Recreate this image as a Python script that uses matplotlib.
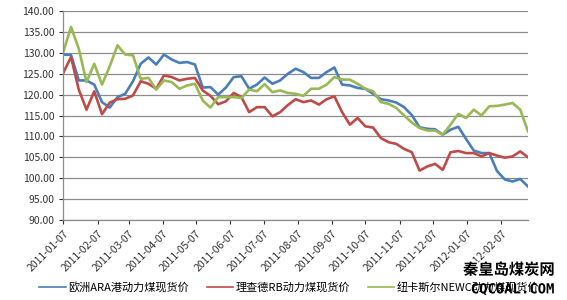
import pandas as pd
import matplotlib
matplotlib.use('Agg')
import matplotlib.pyplot as plt
import matplotlib.dates as mdates
import matplotlib.patheffects as pe

plt.rcParams['font.family'] = ['Noto Sans CJK SC', 'DejaVu Sans']

#########################################################
# Data (weekly)
#########################################################
dates = pd.date_range('2011-01-07', periods=61, freq='7D')

ara = [129.6, 129.5, 123.4, 123.4, 122.4, 118.2, 116.9, 119.4, 120.2, 123.2,
       127.4, 128.9, 127.2, 129.6, 128.4, 127.6, 127.8, 127.2, 121.7, 121.8,
       120.0, 121.7, 124.2, 124.4, 121.4, 122.4, 124.1, 122.6, 123.4, 125.0,
       126.2, 125.4, 124.0, 124.0, 125.4, 126.5, 122.4, 122.2, 121.6, 121.4,
       120.2, 118.9, 118.6, 118.1, 117.0, 115.1, 112.2, 111.8, 111.7, 110.4,
       111.6, 112.3, 109.4, 106.6, 106.0, 106.0, 101.7, 99.7, 99.2, 99.8, 98.0]

rb = [125.2, 129.0, 121.2, 116.4, 120.8, 115.3, 118.1, 118.9, 119.0, 119.8,
      123.2, 122.6, 121.4, 124.6, 124.2, 123.4, 123.8, 124.0, 121.0, 119.7,
      117.7, 118.4, 120.4, 119.4, 115.8, 117.0, 117.0, 114.8, 115.8, 117.5,
      118.9, 118.2, 118.6, 117.6, 118.9, 119.6, 115.8, 112.8, 114.4, 112.4,
      112.1, 109.6, 108.6, 108.2, 107.0, 106.2, 101.8, 102.8, 103.4, 102.0,
      106.2, 106.5, 106.0, 106.0, 105.2, 106.0, 105.4, 104.9, 105.2, 106.4, 105.0]

newc = [130.2, 136.2, 131.0, 123.0, 127.4, 122.4, 126.8, 131.8, 129.6, 129.4,
        123.8, 124.0, 121.2, 123.4, 123.0, 121.4, 122.2, 122.6, 118.6, 116.9,
        119.4, 119.4, 119.4, 119.2, 121.2, 120.8, 122.5, 120.6, 121.0, 120.4,
        120.2, 119.7, 121.4, 121.4, 122.4, 124.2, 123.6, 123.6, 122.6, 121.4,
        120.8, 118.2, 117.8, 116.8, 115.0, 113.3, 112.0, 111.4, 111.4, 110.4,
        112.8, 115.4, 114.4, 116.4, 115.0, 117.2, 117.3, 117.6, 118.0, 116.4, 111.2]

labels = ['欧洲ARA港动力煤现货价', '理查德RB动力煤现货价', '纽卡斯尔NEWC动力煤现货价']
colors = ['#4a7ebb', '#be4b48', '#98b954']
# month ticks on the 7th, 2011-01-07 .. 2012-02-07
tick_dates = pd.date_range('2011-01-01', periods=14, freq='MS') + pd.Timedelta(days=6)

#########################################################
# Plot
#########################################################
fig = plt.figure(figsize=(5.67, 3.0), dpi=100)
ax = fig.add_axes([0.1116, 0.267, 0.8196, 0.696])

for series, label, color in zip([ara, rb, newc], labels, colors):
    ax.plot(dates, series, color=color, linewidth=1.9, label=label)

ax.set_ylim(90, 140)
ax.set_yticks(range(90, 141, 5))
ax.yaxis.set_major_formatter(matplotlib.ticker.FormatStrFormatter('%.2f'))
ax.set_xlim(dates[0], dates[-1])
ax.set_xticks(tick_dates)
ax.xaxis.set_major_formatter(mdates.DateFormatter('%Y-%m-%d'))
for lbl in ax.get_xticklabels():
    lbl.set_rotation(45)
    lbl.set_ha('right')
    lbl.set_rotation_mode('anchor')

ax.tick_params(axis='both', labelsize=7.5, colors='#333333', length=3, width=0.8)
ax.tick_params(axis='x', pad=3)
ax.grid(axis='y', color='#8c8c8c', linewidth=0.9)
ax.set_axisbelow(True)
for side in ['top', 'right']:
    ax.spines[side].set_visible(False)
for side in ['left', 'bottom']:
    ax.spines[side].set_color('#8c8c8c')
    ax.spines[side].set_linewidth(0.9)

fig.legend(loc='lower center', bbox_to_anchor=(0.51, -0.01), ncol=3, frameon=False,
           fontsize=8, handlelength=2.4, handletextpad=0.2, columnspacing=1.6)
for line in fig.legends[0].get_lines():
    line.set_linewidth(1.2)

# watermark
outline = [pe.withStroke(linewidth=2.5, foreground='white')]
fig.text(0.978, 0.075, '秦皇岛煤炭网', ha='right', va='bottom', fontsize=11,
         fontweight='bold', color='black', path_effects=outline)
fig.text(0.978, 0.012, 'CQCOAL.COM', ha='right', va='bottom', fontsize=10,
         fontweight='bold', color='black', path_effects=outline,
         family=['DejaVu Sans Mono', 'DejaVu Sans'])

plt.savefig('out.png', dpi=100)
